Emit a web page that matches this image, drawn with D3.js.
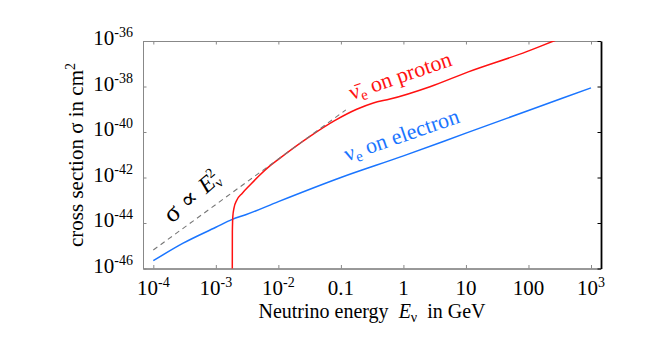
<!DOCTYPE html>
<html>
<head>
<meta charset="utf-8">
<script src="https://cdn.jsdelivr.net/npm/d3@7"></script>
<style>
  body { margin: 0; background: #fff; }
  svg { display: block; font-family: "Liberation Serif", "DejaVu Serif", serif; }
</style>
</head>
<body>
<div id="chart"></div>
<script>
// values (energy in GeV, cross section in cm^2)
var electronE = [1e-4, 3e-4, 1e-3, 1.83e-3, 3e-3, 1e-2, 0.1, 1, 10, 100, 1000];
var electronSigma = [2.2e-46, 1.3e-45, 6.5e-45, 1.45e-44, 2.3e-44, 8.7e-44, 1.0e-42, 8.9e-42, 8.9e-41, 8.8e-40, 8.7e-39];

var protonE = [1.83e-3, 1.837e-3, 1.871e-3, 1.95e-3, 2.16e-3, 2.63e-3, 3.55e-3, 5.01e-3, 7.08e-3, 1e-2, 3.16e-2, 0.0794, 0.179, 0.33, 0.61, 2.66, 10.9, 93.5, 265, 400];
var protonSigma = [1e-47, 3.98e-45, 2.0e-44, 4.47e-44, 1.0e-43, 2.0e-43, 4.8e-43, 1.26e-42, 3.0e-42, 6.3e-42, 6.3e-41, 3.16e-40, 1.0e-39, 1.9e-39, 2.8e-39, 9.8e-39, 4.4e-38, 3.4e-37, 1.05e-36, 1.6e-36];

var squareE = [1e-4, 0.12];
var squareSigma = [6.5e-46, 9.36e-40];

var xTickValues = [1e-4, 1e-3, 1e-2, 0.1, 1, 10, 100, 1e3];
var xTickBase = ['10', '10', '10', '0.1', '1', '10', '100', '10'];
var xTickExp = ['-4', '-3', '-2', '', '', '', '', '3'];

var yTickValues = [1e-46, 1e-44, 1e-42, 1e-40, 1e-38, 1e-36];
var yTickExp = ['-46', '-44', '-42', '-40', '-38', '-36'];

(function () {
  var width = 654, height = 337;
  var pLeft = 143, pRight = 601, pTop = 41, pBottom = 268.5;

  var svg = d3.select('#chart').append('svg')
    .attr('width', width)
    .attr('height', height);

  var x = d3.scaleLog()
    .domain([Math.pow(10, -4.165), Math.pow(10, 3.16)])
    .range([pLeft, pRight]);

  var y = d3.scaleLog()
    .domain([1e-46, 1e-36])
    .range([pBottom, pTop]);

  svg.append('clipPath').attr('id', 'plot')
    .append('rect')
    .attr('x', pLeft).attr('y', pTop)
    .attr('width', pRight - pLeft).attr('height', pBottom - pTop);

  // axes, ticks pointing inward
  var gBottom = svg.append('g').attr('transform', 'translate(0,' + pBottom + ')')
    .call(d3.axisBottom(x).tickValues(xTickValues).tickSize(-3.5).tickSizeOuter(0).tickFormat(''));
  var gTop = svg.append('g').attr('transform', 'translate(0,' + pTop + ')')
    .call(d3.axisTop(x).tickValues(xTickValues).tickSize(-3.5).tickSizeOuter(0).tickFormat(''));
  var gLeft = svg.append('g').attr('transform', 'translate(' + pLeft + ',0)')
    .call(d3.axisLeft(y).tickValues(yTickValues).tickSize(-3.5).tickSizeOuter(0).tickFormat(''));
  var gRight = svg.append('g').attr('transform', 'translate(' + pRight + ',0)')
    .call(d3.axisRight(y).tickValues(yTickValues).tickSize(-3.5).tickSizeOuter(0).tickFormat(''));

  [gTop, gLeft].forEach(function (g) {
    g.select('.domain').attr('stroke', '#888');
    g.selectAll('.tick line').attr('stroke', '#888');
  });
  gBottom.select('.domain').attr('stroke', '#333');
  gBottom.selectAll('.tick line').attr('stroke', '#888');
  gRight.select('.domain').attr('stroke', '#000').attr('stroke-width', 1.8);
  gRight.selectAll('.tick line').attr('stroke', '#000');

  // tick labels
  var xl = svg.append('g').selectAll('text')
    .data(xTickValues)
    .enter().append('text')
      .attr('x', function (d) { return x(d); })
      .attr('y', 295)
      .attr('text-anchor', 'middle')
      .attr('font-size', 21)
      .attr('fill', '#000');
  xl.append('tspan').text(function (d, i) { return xTickBase[i]; });
  xl.append('tspan')
    .attr('font-size', 14)
    .attr('dy', -8)
    .text(function (d, i) { return xTickExp[i]; });

  var yl = svg.append('g').selectAll('text')
    .data(yTickValues)
    .enter().append('text')
      .attr('x', 133)
      .attr('y', function (d) { return y(d) + 4; })
      .attr('text-anchor', 'end')
      .attr('font-size', 21)
      .attr('fill', '#000');
  yl.append('tspan').text('10');
  yl.append('tspan')
    .attr('font-size', 14)
    .attr('dy', -8)
    .text(function (d, i) { return yTickExp[i]; });

  // axis titles
  var xt = svg.append('text')
    .attr('x', 372).attr('y', 318)
    .attr('text-anchor', 'middle')
    .attr('font-size', 20);
  xt.append('tspan').text('Neutrino energy\u00a0 ');
  xt.append('tspan').attr('font-style', 'italic').text('E');
  xt.append('tspan').attr('font-size', 14).attr('dy', 4).text('\u03bd');
  xt.append('tspan').attr('dy', -4).text('\u00a0 in GeV');

  var yt = svg.append('text')
    .attr('transform', 'translate(83,155) rotate(-90)')
    .attr('text-anchor', 'middle')
    .attr('font-size', 21);
  yt.append('tspan').text('cross section \u03c3 in cm');
  yt.append('tspan').attr('font-size', 14).attr('dy', -8).text('2');

  // curves
  var line = d3.line()
    .x(function (d) { return x(d[0]); })
    .y(function (d) { return y(d[1]); })
    .curve(d3.curveMonotoneX);

  var plot = svg.append('g').attr('clip-path', 'url(#plot)');

  plot.append('path')
    .datum(d3.zip(electronE, electronSigma))
    .attr('d', line)
    .attr('fill', 'none')
    .attr('stroke', '#1a75ff')
    .attr('stroke-width', 1.5);

  plot.append('path')
    .datum(d3.zip(protonE, protonSigma))
    .attr('d', line)
    .attr('fill', 'none')
    .attr('stroke', '#ff1111')
    .attr('stroke-width', 1.5);

  plot.append('path')
    .datum(d3.zip(squareE, squareSigma))
    .attr('d', line)
    .attr('fill', 'none')
    .attr('stroke', '#777')
    .attr('stroke-width', 1.1)
    .attr('stroke-dasharray', '5,4');

  // curve labels
  var lp = svg.append('text')
    .attr('transform', 'translate(352,100) rotate(-19)')
    .attr('font-size', 22)
    .attr('fill', '#ff1111');
  lp.append('tspan').text('\u03bd\u0304');
  lp.append('tspan').attr('font-size', 15).attr('dy', 4).text('e');
  lp.append('tspan').attr('dy', -4).text(' on proton');

  var le = svg.append('text')
    .attr('transform', 'translate(347,161.5) rotate(-19)')
    .attr('font-size', 22)
    .attr('fill', '#1a75ff');
  le.append('tspan').text('\u03bd');
  le.append('tspan').attr('font-size', 15).attr('dy', 4).text('e');
  le.append('tspan').attr('dy', -4).text(' on electron');

  var ls = svg.append('text')
    .attr('transform', 'translate(172,224) rotate(-41)')
    .attr('font-size', 23)
    .attr('fill', '#000');
  ls.append('tspan').attr('font-size', 26).text('\u03c3');
  ls.append('tspan').attr('font-size', 24).attr('dx', 7).text('\u221d');
  ls.append('tspan').attr('font-style', 'italic').attr('dx', 8).text('E');
  ls.append('tspan').attr('font-size', 14).attr('dy', 4).text('\u03bd');
  ls.append('tspan').attr('font-size', 14).attr('dx', -7).attr('dy', -13).text('2');
})();
</script>
</body>
</html>
